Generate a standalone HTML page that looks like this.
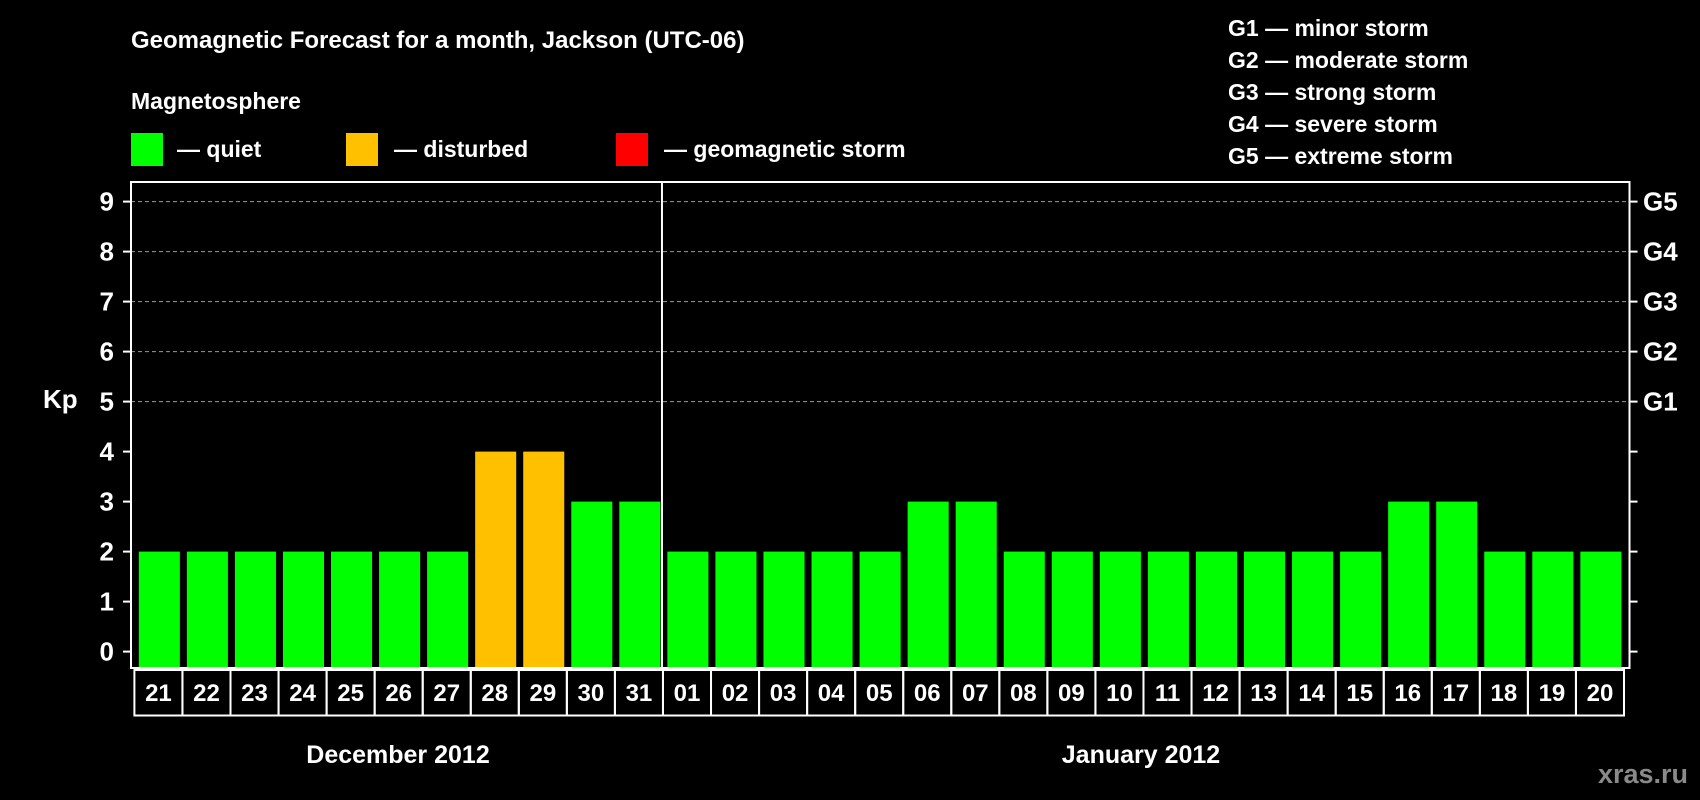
<!DOCTYPE html>
<html><head><meta charset="utf-8"><style>
html,body{margin:0;padding:0;background:#000;}
svg{display:block;font-family:"Liberation Sans",Arial,sans-serif;font-weight:bold;}
</style></head><body>
<svg id="chart" width="1700" height="800" viewBox="0 0 1700 800">
<rect x="0" y="0" width="1700" height="800" fill="#000"/>
<text x="131" y="48" fill="#fff" font-size="24">Geomagnetic Forecast for a month, Jackson (UTC-06)</text>
<text x="131" y="109" fill="#fff" font-size="23">Magnetosphere</text>
<g><rect x="131" y="133" width="32" height="33" fill="#00ff00"/><text x="177" y="157" fill="#fff" font-size="23">— quiet</text></g>
<g><rect x="346" y="133" width="32" height="33" fill="#ffc000"/><text x="394" y="157" fill="#fff" font-size="23">— disturbed</text></g>
<g><rect x="616" y="133" width="32" height="33" fill="#ff0000"/><text x="664" y="157" fill="#fff" font-size="23">— geomagnetic storm</text></g>
<g fill="#fff" font-size="23">
<text x="1228" y="36">G1 — minor storm</text>
<text x="1228" y="68">G2 — moderate storm</text>
<text x="1228" y="100">G3 — strong storm</text>
<text x="1228" y="132">G4 — severe storm</text>
<text x="1228" y="164">G5 — extreme storm</text>
</g>
<g id="grid"></g><g id="bars"></g><g id="axes"></g>
<text x="43" y="408" fill="#fff" font-size="26">Kp</text>
<text x="398" y="763" fill="#fff" font-size="25" text-anchor="middle">December 2012</text>
<text x="1141" y="763" fill="#fff" font-size="25" text-anchor="middle">January 2012</text>
<text x="1688" y="783" fill="#8a8a8a" font-size="27" text-anchor="end">xras.ru</text>
</svg>
<script>
const days = ["21","22","23","24","25","26","27","28","29","30","31","01","02","03","04","05","06","07","08","09","10","11","12","13","14","15","16","17","18","19","20"];
const kp = [2,2,2,2,2,2,2,4,4,3,3,2,2,2,2,2,3,3,2,2,2,2,2,2,2,2,3,3,2,2,2];
const yTicks = [0,1,2,3,4,5,6,7,8,9];
const gLabels = ["G1","G2","G3","G4","G5"];
const gLevels = [5,6,7,8,9];
const NS="http://www.w3.org/2000/svg";
const L=131,R=1629.5,T=182,B=668;
const y=v=>651.6-50*v;
const pitch=(1624-134.4)/days.length;
const xBox=i=>134.4+i*pitch;
function mk(t,a,p){const e=document.createElementNS(NS,t);for(const k in a)e.setAttribute(k,a[k]);p.appendChild(e);return e;}
const grid=document.getElementById('grid'),bars=document.getElementById('bars'),axes=document.getElementById('axes');
gLevels.forEach((v,i)=>{
 const g=mk('line',{x1:L,x2:R,y1:y(v),y2:y(v),stroke:'#999','stroke-dasharray':'4,3','stroke-width':1},grid);
 
 
 const t=mk('text',{x:1643,y:y(v)+9,fill:'#fff','font-size':26},axes);t.textContent=gLabels[i];
 
 
});
kp.forEach((v,i)=>{
 const c=v>=5?'#ff0000':(v>=4?'#ffc000':'#00ff00');
 const b=mk('rect',{x:xBox(i)+4.4,y:y(v),width:pitch-7,height:B-y(v),fill:c},bars);
 
 
});
const fr=mk('rect',{x:L,y:T,width:R-L,height:B-T,fill:'none',stroke:'#fff','stroke-width':2},axes);


const dv=mk('line',{x1:xBox(11)-1,x2:xBox(11)-1,y1:T,y2:B,stroke:'#fff','stroke-width':2},axes);


yTicks.forEach(v=>{
 mk('line',{x1:L-8,x2:L,y1:y(v),y2:y(v),stroke:'#fff','stroke-width':2},axes);
 mk('line',{x1:R,x2:R+8,y1:y(v),y2:y(v),stroke:'#fff','stroke-width':2},axes);
 const t=mk('text',{x:114,y:y(v)+9,fill:'#fff','font-size':26,'text-anchor':'end'},axes);t.textContent=v;
 
 
});
days.forEach((d,i)=>{
 const r=mk('rect',{x:xBox(i),y:670,width:pitch,height:45.5,fill:'none',stroke:'#fff','stroke-width':2},axes);
 
 
 const t=mk('text',{x:xBox(i)+pitch/2,y:701,fill:'#fff','font-size':24,'text-anchor':'middle'},axes);t.textContent=d;
 
 
});
</script>
</body></html>
